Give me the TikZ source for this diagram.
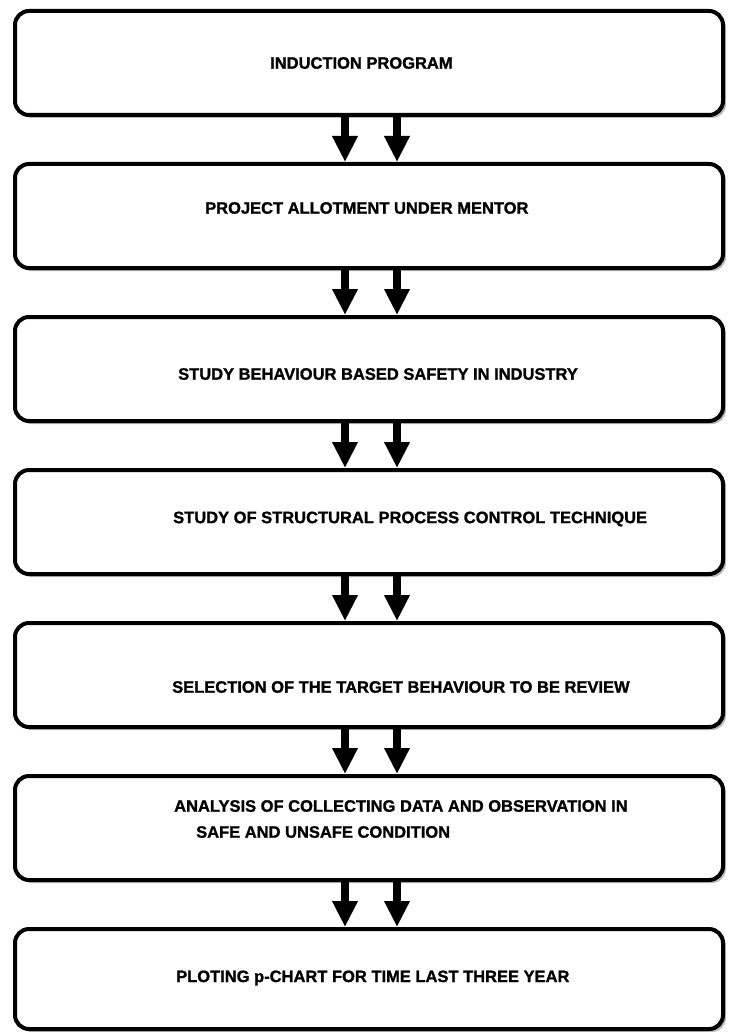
\documentclass[tikz,border=0pt]{standalone}
\usepackage{fontspec}
\setmainfont{Liberation Sans}
\newfontfamily\heavyfont{Liberation Sans Bold}[FakeBold=1.2]
\usetikzlibrary{arrows.meta,shadows}
\begin{document}
\begin{tikzpicture}[x=1pt,y=-1pt,
  box/.style={draw=black, line width=4pt, rounded corners=14pt, fill=white,
    minimum width=708pt, minimum height=104pt, inner sep=0pt,
    drop shadow={shadow xshift=3pt, shadow yshift=-3pt, fill=black!50, opacity=0.55}},
  lbl/.style={anchor=west, inner sep=0pt, font=\fontsize{16.5}{19}\heavyfont},
  flow/.style={line width=8pt, -{Triangle[width=24pt,length=26pt]}}]
\fill[white] (0,0) rectangle (755,1032);
\useasboundingbox (0,0) rectangle (755,1032);
\node[box] (b1) at (369,63) {};
\node[box] (b2) at (369,216) {};
\node[box] (b3) at (369,369) {};
\node[box] (b4) at (369,522) {};
\node[box] (b5) at (369,675) {};
\node[box] (b6) at (369,828) {};
\node[box, minimum height=100pt] (b7) at (369,979) {};
\node[lbl] (t1) at (270,63) {INDUCTION PROGRAM};
\node[lbl] (t2) at (205,208) {PROJECT ALLOTMENT UNDER MENTOR};
\node[lbl] (t3) at (178,374) {STUDY BEHAVIOUR BASED SAFETY IN INDUSTRY};
\node[lbl] (t4) at (173,519) {STUDY OF STRUCTURAL PROCESS CONTROL TECHNIQUE};
\node[lbl] (t5) at (172,687) {SELECTION OF THE TARGET BEHAVIOUR TO BE REVIEW};
\node[lbl] (t6a) at (174,806) {ANALYSIS OF COLLECTING DATA AND OBSERVATION IN};
\node[lbl] (t6b) at (196,832) {SAFE AND UNSAFE CONDITION};
\node[lbl] (t7) at (176,978) {PLOTING p-CHART FOR TIME LAST THREE YEAR};
\foreach \a/\b in {b1/b2,b2/b3,b3/b4,b4/b5,b5/b6,b6/b7}{
  \draw[flow] (\a.south -| 345,0) -- (\b.north -| 345,0);
  \draw[flow] (\a.south -| 397,0) -- (\b.north -| 397,0);
}
\end{tikzpicture}
\end{document}
